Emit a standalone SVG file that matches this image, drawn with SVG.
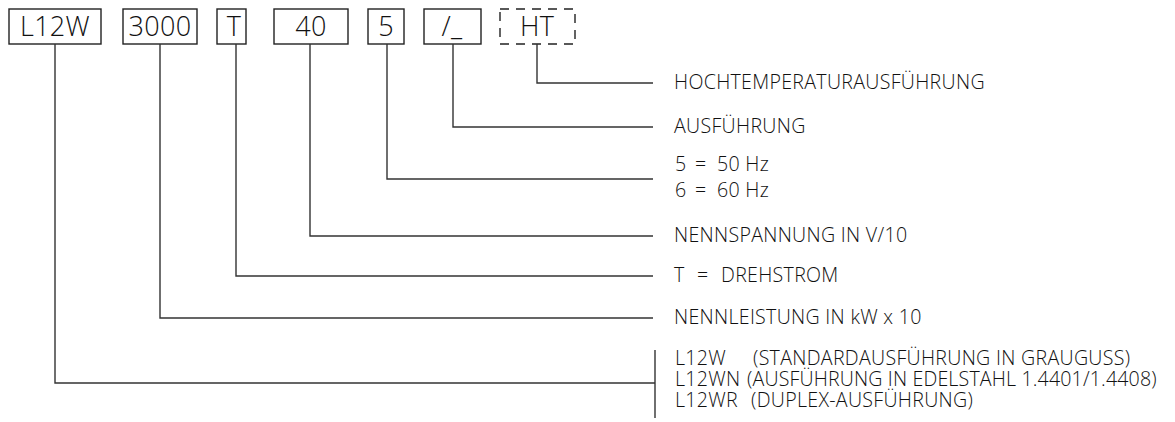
<svg xmlns="http://www.w3.org/2000/svg" width="1175" height="422" viewBox="0 0 1175 422">
<style>
.box{fill:none;stroke:#222;stroke-width:1.4}
.dash{fill:none;stroke:#222;stroke-width:1.4;stroke-dasharray:9 7}
.bt{font-family:"Open Sans","Noto Sans",sans-serif;font-size:27px;font-weight:300;fill:#111;text-anchor:middle;letter-spacing:0.3px}
.lt{font-family:"Open Sans","Noto Sans",sans-serif;font-size:19.6px;font-weight:300;fill:#111;white-space:pre;letter-spacing:0.3px}
.tight{letter-spacing:0.15px}
.ln{fill:none;stroke:#333;stroke-width:1.4}
</style>
<rect width="1175" height="422" fill="#fff"/>
<g id="node-l12w"><rect class="box" x="9" y="9" width="92" height="35"/><text class="bt" x="55" y="36">L12W</text></g>
<g id="node-3000"><rect class="box" x="123" y="9" width="74" height="35"/><text class="bt" x="160" y="36">3000</text></g>
<g id="node-t"><rect class="box" x="217" y="9" width="29" height="35"/><text class="bt" x="234" y="36">T</text></g>
<g id="node-40"><rect class="box" x="274" y="9" width="74" height="35"/><text class="bt" x="311" y="36">40</text></g>
<g id="node-5"><rect class="box" x="368" y="9" width="36" height="35"/><text class="bt" x="386" y="36">5</text></g>
<g id="node-slash"><rect class="box" x="424" y="9" width="57" height="35"/><text class="bt" x="452" y="36">/_</text></g>
<g id="node-ht"><rect class="dash" x="500" y="9" width="75" height="35"/><text class="bt" x="537" y="36">HT</text></g>
<g id="connectors">
<polyline class="ln" points="537,44 537,83 653,83"/>
<polyline class="ln" points="453,44 453,127 653,127"/>
<polyline class="ln" points="387,44 387,179 653,179"/>
<polyline class="ln" points="310,44 310,236 653,236"/>
<polyline class="ln" points="236,44 236,276 653,276"/>
<polyline class="ln" points="160,44 160,318 653,318"/>
<polyline class="ln" points="55,44 55,383 655,383"/>
<line class="ln" x1="655" y1="350" x2="655" y2="418"/>
</g>
<g id="labels">
<text class="lt" x="674" y="89">HOCHTEMPERATURAUSFÜHRUNG</text>
<text class="lt" x="674" y="133">AUSFÜHRUNG</text>
<text class="lt" x="675" y="171">5<tspan x="695">=</tspan><tspan x="717">50 Hz</tspan></text>
<text class="lt" x="675" y="197">6<tspan x="695">=</tspan><tspan x="717">60 Hz</tspan></text>
<text class="lt" x="674" y="242">NENNSPANNUNG IN V/10</text>
<text class="lt" x="674" y="282">T<tspan x="697">=</tspan><tspan x="721">DREHSTROM</tspan></text>
<text class="lt" x="674" y="324">NENNLEISTUNG IN kW x 10</text>
<text class="lt" x="675" y="365">L12W<tspan x="753">(STANDARDAUSFÜHRUNG IN GRAUGUSS)</tspan></text>
<text class="lt" x="675" y="386">L12WN<tspan x="747" class="tight">(AUSFÜHRUNG IN EDELSTAHL 1.4401/1.4408)</tspan></text>
<text class="lt" x="675" y="407">L12WR<tspan x="751">(DUPLEX-AUSFÜHRUNG)</tspan></text>
</g>
</svg>
